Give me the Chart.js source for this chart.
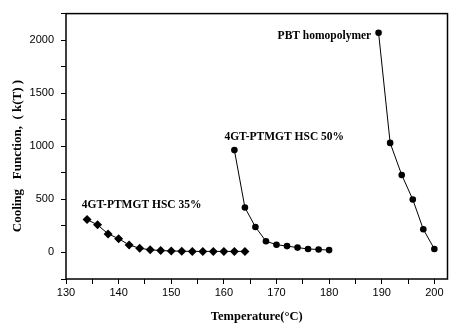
<!DOCTYPE html>
<html>
<head>
<meta charset="utf-8">
<script src="https://cdn.jsdelivr.net/npm/chart.js@4"></script>
<style>
  html, body { margin: 0; padding: 0; background: #fff; }
  #box { width: 452px; height: 327px; }
</style>
</head>
<body>
<div id="box"><canvas id="grafico"></canvas></div>
<script>
// dati
var tempHSC35 = [134, 136, 138, 140, 142, 144, 146, 148, 150, 152, 154, 156, 158, 160, 162, 164];
var kHSC35 = [310, 260, 175, 130, 70, 40, 25, 18, 14, 12, 10, 10, 10, 10, 10, 10];

var tempHSC50 = [162, 164, 166, 168, 170, 172, 174, 176, 178, 180];
var kHSC50 = [964, 423, 240, 106, 73, 60, 46, 33, 28, 22];

var tempPBT = [189.4, 191.6, 193.8, 195.9, 197.9, 200];
var kPBT = [2070, 1032, 730, 499, 219, 33];

var etichette = ['4GT-PTMGT HSC 35%', '4GT-PTMGT HSC 50%', 'PBT homopolymer'];

// tacche asse x (ogni 5, etichetta ogni 10)
var tickX = [130, 135, 140, 145, 150, 155, 160, 165, 170, 175, 180, 185, 190, 195, 200];

function punti(xs, ys) {
    var out = [];
    for (var i = 0; i < xs.length; i++) {
        out.push({ x: xs[i], y: ys[i] });
    }
    return out;
}

// scritte dentro il grafico + cornice
var pluginTesti = {
    id: 'testi',
    afterDatasetsDraw: function(chart) {
        var ctx = chart.ctx;
        var sx = chart.scales.x, sy = chart.scales.y;
        var a = chart.chartArea;
        ctx.save();
        ctx.strokeStyle = '#000';
        ctx.lineWidth = 1.5;
        ctx.strokeRect(a.left, a.top, a.right - a.left, a.bottom - a.top);

        ctx.fillStyle = '#000';
        ctx.font = 'bold 11.5px "Liberation Serif", "Times New Roman", serif';
        ctx.textBaseline = 'middle';
        ctx.textAlign = 'left';
        ctx.fillText(etichette[0], sx.getPixelForValue(133), sy.getPixelForValue(445));
        ctx.fillText(etichette[1], sx.getPixelForValue(160.1), sy.getPixelForValue(1085));
        ctx.textAlign = 'right';
        ctx.fillText(etichette[2], sx.getPixelForValue(188), sy.getPixelForValue(2035));
        ctx.restore();
    }
};

var ctx = document.getElementById('grafico').getContext('2d');
var grafico = new Chart(ctx, {
    type: 'scatter',
    data: {
        datasets: [
            {
                label: etichette[0],
                data: punti(tempHSC35, kHSC35),
                showLine: true,
                borderColor: '#000',
                borderWidth: 1,
                backgroundColor: '#000',
                pointStyle: 'rectRot',
                pointRadius: 4.5,
                pointBorderWidth: 0
            },
            {
                label: etichette[1],
                data: punti(tempHSC50, kHSC50),
                showLine: true,
                borderColor: '#000',
                borderWidth: 1,
                backgroundColor: '#000',
                pointStyle: 'circle',
                pointRadius: 3.3,
                pointBorderWidth: 0
            },
            {
                label: etichette[2],
                data: punti(tempPBT, kPBT),
                showLine: true,
                borderColor: '#000',
                borderWidth: 1,
                backgroundColor: '#000',
                pointStyle: 'circle',
                pointRadius: 3.3,
                pointBorderWidth: 0
            }
        ]
    },
    options: {
        responsive: true,
        maintainAspectRatio: false,
        animation: false,
        layout: { padding: { left: 0, top: 7, right: 2, bottom: 0 } },
        plugins: {
            legend: { display: false },
            tooltip: { enabled: false }
        },
        scales: {
            x: {
                type: 'linear',
                min: 130,
                max: 202.5,
                afterFit: function(s) { s.height = 48; },
                afterBuildTicks: function(s) {
                    s.ticks = tickX.map(function(v) { return { value: v }; });
                },
                border: { display: false },
                grid: { drawOnChartArea: false, tickLength: 5, color: '#000', tickColor: '#000', lineWidth: 1 },
                ticks: {
                    autoSkip: false,
                    maxRotation: 0,
                    padding: 2,
                    color: '#000',
                    font: { family: '"Liberation Sans", Arial, sans-serif', size: 11 },
                    callback: function(v) { return (v % 10 === 0) ? v : ''; }
                },
                title: {
                    display: true,
                    text: 'Temperature(°C)',
                    color: '#000',
                    padding: { top: 0, bottom: 3 },
                    font: { family: '"Liberation Serif", "Times New Roman", serif', size: 12.5, weight: 'bold' }
                }
            },
            y: {
                type: 'linear',
                min: -250,
                max: 2250,
                afterFit: function(s) { s.width = 66; },
                border: { display: false },
                grid: { drawOnChartArea: false, tickLength: 5, color: '#000', tickColor: '#000', lineWidth: 1 },
                ticks: {
                    stepSize: 250,
                    autoSkip: false,
                    padding: 7,
                    color: '#000',
                    font: { family: '"Liberation Sans", Arial, sans-serif', size: 11 },
                    callback: function(v) { return (v % 500 === 0) ? v : ''; }
                },
                title: {
                    display: true,
                    text: 'Cooling   Function,  ( k(T) )      ',
                    color: '#000',
                    padding: { top: 10, bottom: 0 },
                    font: { family: '"Liberation Serif", "Times New Roman", serif', size: 13, weight: 'bold' }
                }
            }
        }
    },
    plugins: [pluginTesti]
});
</script>
</body>
</html>
